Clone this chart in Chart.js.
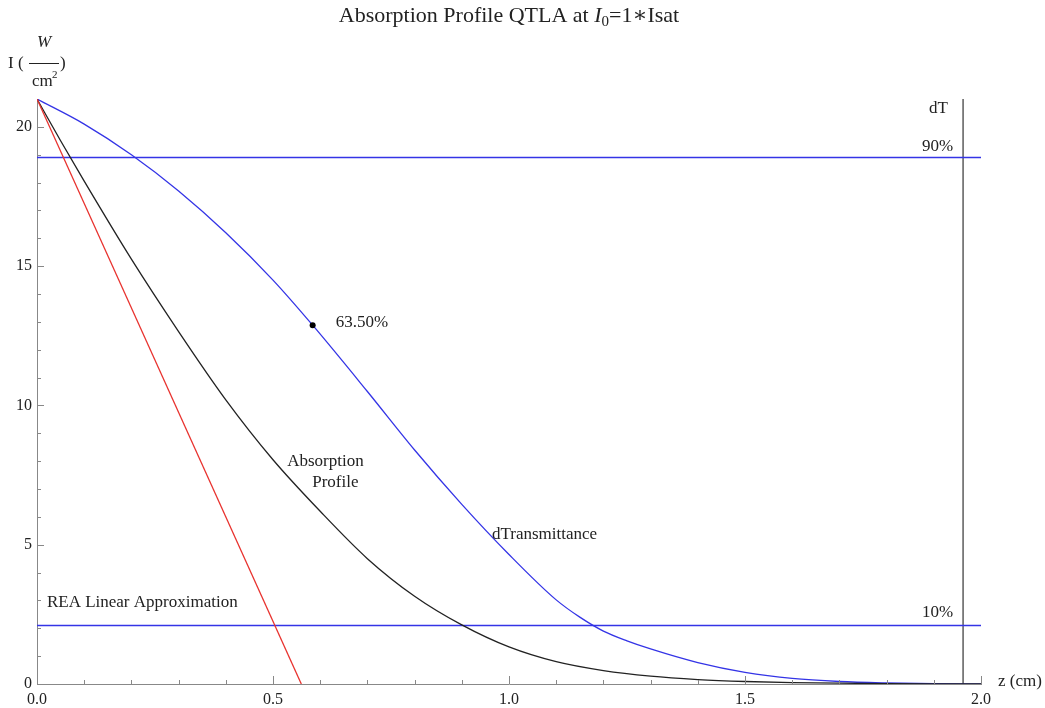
<!DOCTYPE html>
<html>
<head>
<meta charset="utf-8">
<script src="https://cdn.jsdelivr.net/npm/chart.js@4"></script>
<style>
body { margin: 0; background: #fff; }
</style>
</head>
<body>
<canvas id="chart" width="1045" height="708"></canvas>
<script>
// values (z in cm, I in W/cm^2)
const zAbs = [0, 0.05, 0.1, 0.2, 0.3, 0.4, 0.5, 0.6, 0.7, 0.8, 0.9, 1.0, 1.1, 1.2, 1.3, 1.4, 1.5, 1.6, 1.7, 1.8, 1.9, 2.0];
const iAbs = [21, 19.5, 18.05, 15.25, 12.65, 10.2, 8.05, 6.2, 4.5, 3.15, 2.12, 1.33, 0.8, 0.48, 0.28, 0.16, 0.09, 0.05, 0.028, 0.015, 0.008, 0.004];
const zTrans = [0, 0.1, 0.2, 0.3, 0.4, 0.5, 0.584, 0.7, 0.8, 0.9, 1.0, 1.1, 1.15, 1.2, 1.25, 1.3, 1.4, 1.5, 1.6, 1.7, 1.8, 1.9, 2.0];
const iTrans = [21, 20.1, 19.0, 17.7, 16.2, 14.5, 12.88, 10.5, 8.4, 6.45, 4.65, 3.02, 2.4, 1.9, 1.55, 1.26, 0.77, 0.42, 0.2, 0.09, 0.04, 0.015, 0.005];
const zLinear = [0, 0.56];
const iLinear = [21, 0];
const levelZ = [0, 2.0];
const level90 = 18.9;
const level10 = 2.1;
const zDT = 1.962;
const iDT = [0, 21];
const markZ = 0.584;
const markI = 12.88;
const xTicks = [0, 0.5, 1.0, 1.5, 2.0];
const yTicks = [0, 5, 10, 15, 20];

// text labels placed in data coordinates
const notes = [
  { text: '63.50%', z: 0.633, i: 12.96, align: 'left' },
  { text: 'Absorption', z: 0.530, i: 7.97, align: 'left' },
  { text: 'Profile', z: 0.583, i: 7.25, align: 'left' },
  { text: 'dTransmittance', z: 0.964, i: 5.35, align: 'left' },
  { text: 'REA Linear Approximation', z: 0.021, i: 2.91, align: 'left' },
  { text: '90%', z: 1.941, i: 19.28, align: 'right' },
  { text: '10%', z: 1.941, i: 2.58, align: 'right' },
  { text: 'dT', z: 1.930, i: 20.64, align: 'right' }
];

const SERIF = '"Liberation Serif", "DejaVu Serif", serif';
const pts = (xs, ys) => xs.map((v, k) => ({ x: v, y: ys[k] }));

//tick marks pointing into the plot, like the original
const inwardTicks = {
  id: 'inwardTicks',
  afterDatasetsDraw(chart) {
    const { ctx, scales: { x, y } } = chart;
    ctx.save();
    ctx.strokeStyle = '#888';
    ctx.lineWidth = 1;
    for (let k = 1; k <= 20; k++) {
      const len = k % 5 === 0 ? 7 : 4;
      const py = Math.round(y.getPixelForValue(k)) + 0.5;
      ctx.beginPath(); ctx.moveTo(x.left, py); ctx.lineTo(x.left + len, py); ctx.stroke();
    }
    for (let k = 1; k <= 20; k++) {
      const len = k % 5 === 0 ? 8 : 4;
      const px = Math.round(x.getPixelForValue(k / 10)) + 0.5;
      ctx.beginPath(); ctx.moveTo(px, y.bottom); ctx.lineTo(px, y.bottom - len); ctx.stroke();
    }
    ctx.restore();
  }
};

//title, axis labels and notes
const textLayer = {
  id: 'textLayer',
  afterDraw(chart) {
    const { ctx, scales: { x, y } } = chart;
    ctx.save();
    ctx.fillStyle = '#222';
    ctx.textBaseline = 'alphabetic';

    // title with italic I and subscript 0
    const parts = [
      { t: 'Absorption Profile QTLA at ', f: '22px ' + SERIF, dy: 0 },
      { t: 'I', f: 'italic 22px ' + SERIF, dy: 0 },
      { t: '0', f: '15px ' + SERIF, dy: 4 },
      { t: '=1\u2217Isat', f: '22px ' + SERIF, dy: 0 }
    ];
    let total = 0;
    parts.forEach(p => { ctx.font = p.f; p.w = ctx.measureText(p.t).width; total += p.w; });
    let cx = (x.left + x.right) / 2 - total / 2;
    parts.forEach(p => { ctx.font = p.f; ctx.textAlign = 'left'; ctx.fillText(p.t, cx, 22 + p.dy); cx += p.w; });

    // y axis label I (W / cm^2)
    ctx.font = '17px ' + SERIF;
    ctx.textAlign = 'left';
    ctx.fillText('I (', 8, 68);
    ctx.fillText(')', 60, 68);
    ctx.font = 'italic 17px ' + SERIF;
    ctx.textAlign = 'center';
    ctx.fillText('W', 44, 47);
    ctx.strokeStyle = '#222';
    ctx.lineWidth = 1;
    ctx.beginPath(); ctx.moveTo(29, 63.5); ctx.lineTo(59, 63.5); ctx.stroke();
    ctx.font = '17px ' + SERIF;
    ctx.textAlign = 'left';
    ctx.fillText('cm', 32, 86);
    ctx.font = '11px ' + SERIF;
    ctx.fillText('2', 52, 78);

    // x axis label
    ctx.font = '17px ' + SERIF;
    ctx.textAlign = 'left';
    ctx.textBaseline = 'middle';
    ctx.fillText('z (cm)', x.right + 17, y.bottom - 2);

    // notes
    notes.forEach(n => {
      ctx.textAlign = n.align;
      ctx.fillText(n.text, x.getPixelForValue(n.z), y.getPixelForValue(n.i));
    });
    ctx.restore();
  }
};

new Chart(document.getElementById('chart'), {
  type: 'line',
  data: {
    datasets: [
      { label: '63.50%', data: [{ x: markZ, y: markI }], showLine: false, pointRadius: 3, pointBackgroundColor: '#000', pointBorderWidth: 0 },
      { label: 'REA Linear Approximation', data: pts(zLinear, iLinear), borderColor: '#e8322e', borderWidth: 1.3, pointRadius: 0 },
      { label: 'Absorption Profile', data: pts(zAbs, iAbs), borderColor: '#222', borderWidth: 1.3, pointRadius: 0, cubicInterpolationMode: 'monotone' },
      { label: 'dTransmittance', data: pts(zTrans, iTrans), borderColor: '#3434e6', borderWidth: 1.3, pointRadius: 0, cubicInterpolationMode: 'monotone' },
      { label: '90%', data: pts(levelZ, [level90, level90]), borderColor: '#3434e6', borderWidth: 1.3, pointRadius: 0 },
      { label: '10%', data: pts(levelZ, [level10, level10]), borderColor: '#3434e6', borderWidth: 1.3, pointRadius: 0 },
      { label: 'dT', data: pts([zDT, zDT], iDT), borderColor: '#333', borderWidth: 1.2, pointRadius: 0 }
    ]
  },
  options: {
    responsive: false,
    animation: false,
    layout: { padding: { left: 0, right: 64, top: 99, bottom: 0 } },
    plugins: {
      legend: { display: false },
      tooltip: { enabled: false }
    },
    scales: {
      x: {
        type: 'linear',
        min: 0,
        max: 2,
        afterBuildTicks: s => { s.ticks = xTicks.map(v => ({ value: v })); },
        afterFit: s => { s.height = 24; },
        grid: { drawOnChartArea: false, drawTicks: false },
        border: { color: '#888', width: 1 },
        ticks: {
          padding: 6,
          color: '#222',
          maxRotation: 0,
          autoSkip: false,
          font: { family: SERIF, size: 16 },
          callback: v => Number(v).toFixed(1)
        }
      },
      y: {
        type: 'linear',
        min: 0,
        max: 21,
        afterBuildTicks: s => { s.ticks = yTicks.map(v => ({ value: v })); },
        afterFit: s => { s.width = 37; },
        grid: { drawOnChartArea: false, drawTicks: false },
        border: { color: '#888', width: 1 },
        ticks: {
          padding: 5,
          color: '#222',
          autoSkip: false,
          font: { family: SERIF, size: 16 },
          callback: v => String(v)
        }
      }
    }
  },
  plugins: [inwardTicks, textLayer]
});
</script>
</body>
</html>
